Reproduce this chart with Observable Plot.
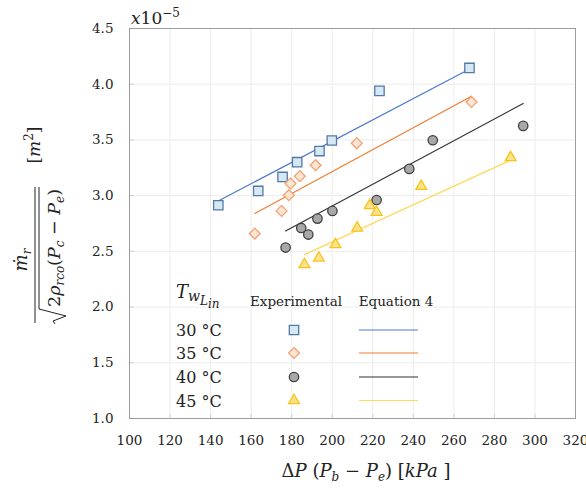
<!DOCTYPE html>
<html><head><meta charset="utf-8">
<script src="https://cdn.jsdelivr.net/npm/d3@7"></script>
<script src="https://cdn.jsdelivr.net/npm/@observablehq/plot@0.6"></script>
<style>
body{margin:0;background:#fff}
#chart{width:586px;height:488px}
svg text{font-family:"DejaVu Serif",serif}
</style>
</head><body><div id="chart"></div>
<script>
// ---- data ----
const seriesNames = ["30 °C", "35 °C", "40 °C", "45 °C"];
const xTicks = [100, 120, 140, 160, 180, 200, 220, 240, 260, 280, 300, 320];
const yTicks = [1.0, 1.5, 2.0, 2.5, 3.0, 3.5, 4.0, 4.5];

// Experimental points (ΔP in kPa, value ×10^-5 m²)
const exp30x = [143.8, 163.5, 175.5, 182.7, 193.7, 199.8, 223.3, 267.7];
const exp30y = [2.914, 3.042, 3.168, 3.300, 3.400, 3.495, 3.940, 4.146];
const exp35x = [161.8, 175.0, 178.6, 179.4, 184.0, 191.8, 212.1, 268.7];
const exp35y = [2.660, 2.863, 3.004, 3.109, 3.174, 3.273, 3.470, 3.841];
const exp40x = [177.0, 184.7, 188.2, 192.7, 200.1, 221.9, 238.0, 249.6, 294.2];
const exp40y = [2.534, 2.710, 2.651, 2.794, 2.863, 2.961, 3.240, 3.497, 3.626];
const exp45x = [186.3, 193.4, 201.6, 212.3, 218.5, 221.9, 243.9, 288.0];
const exp45y = [2.382, 2.441, 2.561, 2.710, 2.911, 2.851, 3.084, 3.342];

// Equation 4 lines (end points)
const eq30x = [144.5, 266.6], eq30y = [2.959, 4.126];
const eq35x = [161.8, 268.7], eq35y = [2.839, 3.892];
const eq40x = [177.0, 294.2], eq40y = [2.683, 3.827];
const eq45x = [186.3, 288.0], eq45y = [2.471, 3.318];

// ---- styles ----
const style = {
  "30 °C": {symbol: "square",   r: 5.3, fill: "#d6e9f2", stroke: "#5478a8", line: "#4a78cc"},
  "35 °C": {symbol: "diamond2", r: 4.9, fill: "#fde6d6", stroke: "#f3a171", line: "#ef7d32"},
  "40 °C": {symbol: "circle",   r: 4.7, fill: "#a8a8a8", stroke: "#404040", line: "#333333"},
  "45 °C": {symbol: "triangle", r: 4.0, fill: "#ffe48c", stroke: "#f7c21a", line: "#ffd95a"}
};

const expX = [exp30x, exp35x, exp40x, exp45x];
const expY = [exp30y, exp35y, exp40y, exp45y];
const eqX = [eq30x, eq35x, eq40x, eq45x];
const eqY = [eq30y, eq35y, eq40y, eq45y];

const points = seriesNames.flatMap((s, i) => expX[i].map((x, j) => ({s, x, y: expY[i][j]})));
const lines = seriesNames.flatMap((s, i) => eqX[i].map((x, j) => ({s, x, y: eqY[i][j]})));

const marks = [
  Plot.gridX(xTicks, {stroke: "#ececec", strokeOpacity: 1}),
  Plot.gridY(yTicks, {stroke: "#ececec", strokeOpacity: 1}),
  Plot.ruleX(xTicks, {y1: 1.0, y2: 1.035, stroke: "#d0d0d0"}),
  Plot.ruleY(yTicks, {x1: 100, x2: 102.5, stroke: "#d0d0d0"}),
  Plot.frame({stroke: "#9c9c9c"}),
  Plot.axisX(xTicks, {tickSize: 0, tickPadding: 17, fontSize: 13.5, fill: "#222", label: null}),
  Plot.axisY(yTicks, {tickSize: 0, tickPadding: 16, fontSize: 13.5, fill: "#222", label: null, tickFormat: d3.format(".1f")})
];
seriesNames.forEach(s => {
  const st = style[s];
  marks.push(Plot.line(lines.filter(d => d.s === s), {x: "x", y: "y", stroke: st.line, strokeWidth: 1.2}));
});
seriesNames.forEach(s => {
  const st = style[s];
  marks.push(Plot.dot(points.filter(d => d.s === s), {x: "x", y: "y", symbol: st.symbol, r: st.r, fill: st.fill, stroke: st.stroke, strokeWidth: 1.3}));
});

const svg = Plot.plot({
  width: 586, height: 488,
  marginLeft: 129, marginRight: 11, marginTop: 28, marginBottom: 70,
  x: {domain: [100, 320]},
  y: {domain: [1.0, 4.5]},
  style: {fontFamily: "DejaVu Serif", background: "#fff"},
  marks
});
document.getElementById("chart").appendChild(svg);

const S = d3.select(svg);
const F = "DejaVu Serif";

// x10^-5 multiplier
{
  const t = S.append("text").attr("x", 131).attr("y", 24).attr("font-size", 17).attr("fill", "#222")
    .attr("font-family", F).attr("text-anchor", "start");
  t.append("tspan").attr("font-style", "italic").text("x");
  t.append("tspan").text("10");
  t.append("tspan").attr("dy", -7).attr("font-size", 12).text("−5");
}

// x axis label
{
  const t = S.append("text").attr("x", 366).attr("y", 477).attr("font-size", 18).attr("fill", "#222").attr("text-anchor", "middle").attr("font-family", F);
  t.append("tspan").text("Δ");
  t.append("tspan").attr("font-style", "italic").text("P");
  t.append("tspan").text(" (");
  t.append("tspan").attr("font-style", "italic").text("P");
  t.append("tspan").attr("font-style", "italic").attr("font-size", 12).attr("dy", 4).text("b");
  t.append("tspan").attr("dy", -4).text(" − ");
  t.append("tspan").attr("font-style", "italic").text("P");
  t.append("tspan").attr("font-style", "italic").attr("font-size", 12).attr("dy", 4).text("e");
  t.append("tspan").attr("dy", -4).text(") [");
  t.append("tspan").attr("font-style", "italic").text("kPa");
  t.append("tspan").text(" ]");
}

// y axis label (rotated fraction)
{
  const g = S.append("g").attr("transform", "translate(35,255) rotate(-90)").attr("fill", "#222").attr("font-family", F);
  g.append("line").attr("x1", -68).attr("x2", 68).attr("y1", 0).attr("y2", 0).attr("stroke", "#222").attr("stroke-width", 1);
  const n = g.append("text").attr("x", -5).attr("y", -8).attr("font-size", 18).attr("text-anchor", "middle");
  n.append("tspan").attr("font-style", "italic").text("ṁ");
  n.append("tspan").attr("font-style", "italic").attr("font-size", 12).attr("dy", 4).text("r");
  g.append("path").attr("d", "M-69,20 L-66,18 L-61,31 L-54,4 L68,4").attr("fill", "none").attr("stroke", "#222").attr("stroke-width", 1);
  const d = g.append("text").attr("x", -52).attr("y", 25).attr("font-size", 17.5).attr("text-anchor", "start");
  d.append("tspan").text("2");
  d.append("tspan").attr("font-style", "italic").text("ρ");
  d.append("tspan").attr("font-style", "italic").attr("font-size", 12).attr("dy", 4).text("rco");
  d.append("tspan").attr("dy", -4).text("(");
  d.append("tspan").attr("font-style", "italic").text("P");
  d.append("tspan").attr("font-style", "italic").attr("font-size", 12).attr("dy", 4).text("c");
  d.append("tspan").attr("dy", -4).text(" − ");
  d.append("tspan").attr("font-style", "italic").text("P");
  d.append("tspan").attr("font-style", "italic").attr("font-size", 12).attr("dy", 4).text("e");
  d.append("tspan").attr("dy", -4).text(")");
  const u = g.append("text").attr("x", 110).attr("y", 5).attr("font-size", 17).attr("text-anchor", "middle");
  u.append("tspan").text("[");
  u.append("tspan").attr("font-style", "italic").text("m");
  u.append("tspan").attr("font-size", 12).attr("dy", -7).text("2");
  u.append("tspan").attr("dy", 7).text("]");
}

// legend
{
  const L = S.append("g").attr("fill", "#222").attr("font-family", F);
  const t = L.append("text").attr("x", 176).attr("y", 298).attr("font-size", 18).attr("text-anchor", "start");
  t.append("tspan").attr("font-style", "italic").text("T");
  t.append("tspan").attr("font-style", "italic").attr("font-size", 14).attr("dy", 3).text("w");
  t.append("tspan").attr("font-style", "italic").attr("font-size", 12).attr("dy", 4).text("L");
  t.append("tspan").attr("font-style", "italic").attr("font-size", 12).attr("dy", 3).text("in");
  L.append("text").attr("x", 296).attr("y", 306).attr("font-size", 13.5).attr("text-anchor", "middle").text("Experimental");
  L.append("text").attr("x", 396).attr("y", 306).attr("font-size", 13.5).attr("text-anchor", "middle").text("Equation 4");
  const symMap = {square: d3.symbolSquare, diamond2: d3.symbolDiamond2, circle: d3.symbolCircle, triangle: d3.symbolTriangle};
  const rowY = [330, 353, 377, 400.5];
  seriesNames.forEach((s, i) => {
    const st = style[s];
    const y = rowY[i];
    L.append("text").attr("x", 176).attr("y", y + 6).attr("font-size", 16).attr("text-anchor", "start").text(s);
    L.append("path").attr("transform", `translate(294,${y})`)
      .attr("d", d3.symbol(symMap[st.symbol], Math.PI * st.r * st.r)())
      .attr("fill", st.fill).attr("stroke", st.stroke).attr("stroke-width", 1.3);
    L.append("line").attr("x1", 359).attr("x2", 418).attr("y1", y).attr("y2", y).attr("stroke", st.line).attr("stroke-width", 1.2);
  });
}
</script>
</body></html>
